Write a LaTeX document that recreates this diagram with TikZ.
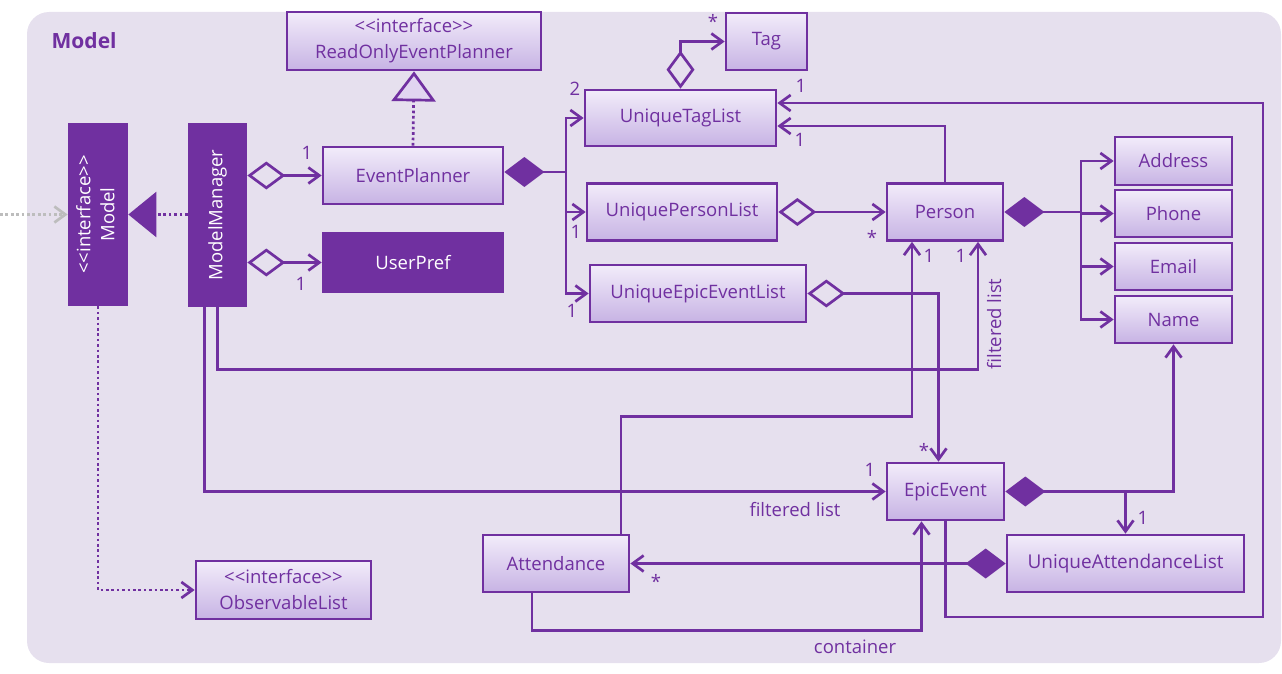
\documentclass[tikz,border=0pt]{standalone}
\usepackage{fontspec}
\setmainfont{Open Sans}
\usetikzlibrary{arrows.meta}

\definecolor{umlpurple}{HTML}{7030A0}
\definecolor{pkgbg}{HTML}{E6E0EE}
\definecolor{boxtop}{HTML}{F2ECFA}
\definecolor{boxbot}{HTML}{C7B3E4}
\definecolor{extgray}{HTML}{BDBDBD}

\begin{document}
\begin{tikzpicture}[x=1pt, y=-1pt, line width=2.7pt,
    >={Straight Barb[length=11pt, width=16pt]},
    every node/.style={font=\fontsize{18.5}{22}\selectfont, text=umlpurple},
    cls/.style={draw=umlpurple, top color=boxtop, bottom color=boxbot, inner sep=0pt, align=center},
    dark/.style={draw=umlpurple, fill=umlpurple, text=white, inner sep=0pt},
    link/.style={draw=umlpurple, ->},
    agg/.style={link, {Diamond[open, length=38pt, width=28pt]}->},
    compo/.style={link, {Diamond[length=40pt, width=30pt]}->},
    comporoot/.style={draw=umlpurple, {Diamond[length=40pt, width=30pt]}-},
    dep/.style={link, dash pattern=on 2.7pt off 2.7pt},
    mult/.style={inner sep=1pt}]
  \useasboundingbox (0,0) rectangle (1282,674);
  % package frame
  \fill[pkgbg, rounded corners=22pt] (27,12) rectangle (1281,663);
  \node[anchor=west, font=\fontsize{21}{25}\selectfont\bfseries] (pkg) at (47,41) {Model};

  % classes
  \node[dark, minimum width=58pt, minimum height=181pt] (model) at (98,214.5)
    {\rotatebox{90}{\begin{tabular}{@{}c@{}}<{}<interface>{}>\\[2pt]Model\end{tabular}}};
  \node[dark, minimum width=57pt, minimum height=182pt] (mm) at (217.5,215)
    {\rotatebox{90}{ModelManager}};
  \node[cls, minimum width=254pt, minimum height=58pt] (roep) at (414,41)
    {<{}<interface>{}>\\[4pt]ReadOnlyEventPlanner};
  \node[cls, minimum width=180pt, minimum height=57pt] (ep) at (413,175.5) {EventPlanner};
  \node[dark, minimum width=180pt, minimum height=59pt] (up) at (413,262.5) {UserPref};
  \node[cls, minimum width=191pt, minimum height=56pt] (utl) at (680.5,118) {UniqueTagList};
  \node[cls, minimum width=81pt, minimum height=57pt] (tag) at (766.5,41.5) {Tag};
  \node[cls, minimum width=190pt, minimum height=57pt] (upl) at (682,212) {UniquePersonList};
  \node[cls, minimum width=216pt, minimum height=57pt] (ueel) at (698,293.5) {UniqueEpicEventList};
  \node[cls, minimum width=116pt, minimum height=57pt] (person) at (945,212) {Person};
  \node[cls, minimum width=117pt, minimum height=48pt] (addr) at (1173.5,161) {Address};
  \node[cls, minimum width=117pt, minimum height=47pt] (phone) at (1173.5,213.5) {Phone};
  \node[cls, minimum width=117pt, minimum height=47pt] (email) at (1173.5,266.5) {Email};
  \node[cls, minimum width=117pt, minimum height=47pt] (name) at (1173.5,319.5) {Name};
  \node[cls, minimum width=117pt, minimum height=57pt] (ee) at (945.5,491.5) {EpicEvent};
  \node[cls, minimum width=237pt, minimum height=57pt] (ual) at (1125.5,563.5)
    {\resizebox{196pt}{!}{UniqueAttendanceList}};
  \node[cls, minimum width=146pt, minimum height=57pt] (att) at (556,563.5) {Attendance};
  \node[cls, minimum width=175pt, minimum height=58pt] (obs) at (283.5,590)
    {<{}<interface>{}>\\[4pt]ObservableList};

  % realizations
  \coordinate (ext) at (0,214.5);
  \draw[dep, draw=extgray] (ext) -- (model.west);
  \draw[dep, -{Triangle[length=28pt, width=45pt, fill=umlpurple]}] (mm.west |- model.east) -- (model.east);
  \draw[dep, -{Triangle[length=30pt, width=44pt, fill=boxtop!60!boxbot]}] (ep.north) -- (roep.south);
  \draw[dep] (model.south) |- (obs.west);

  % ModelManager
  \draw[agg] (mm.east |- ep.west) -- (ep.west);
  \draw[agg] (mm.east |- up.west) -- (up.west);
  \draw[link] (mm.south) -- ++(0,62) -| ([xshift=33pt]person.south);
  \draw[link] ([xshift=-13pt]mm.south) |- (ee.west);

  % EventPlanner parts
  \coordinate (epbus) at (566,172);
  \draw[comporoot] (ep.east |- epbus) -- (epbus);
  \draw[link] (epbus) |- (utl.west);
  \draw[link] (epbus) |- (upl.west);
  \draw[link] (epbus) |- (ueel.west);

  % lists
  \draw[agg] (utl.north) |- (tag.west);
  \draw[agg] (upl.east) -- (person.west);
  \draw[agg] (ueel.east) -| ([xshift=-7pt]ee.north);

  % Person
  \coordinate (pbus) at (1081,212);
  \draw[comporoot] (person.east) -- (pbus);
  \draw[link] (pbus) |- (addr.west);
  \draw[link] (pbus) |- (phone.west);
  \draw[link] (pbus) |- (email.west);
  \draw[link] (pbus) |- (name.west);
  \draw[link] (person.north) |- ([yshift=-8pt]utl.east);

  % EpicEvent
  \coordinate (eeloop) at (1263,617);
  \draw[link] (ee.south) |- (eeloop) |- ([yshift=15pt]utl.east);
  \draw[compo] (ee.east) -| (name.south);
  \draw[link] (ual.north |- ee.east) -- (ual.north);
  \draw[compo] (ual.west) -- (att.east);

  % Attendance
  \draw[link] ([xshift=65pt]att.north) -- ++(0,-117) -| ([xshift=-33pt]person.south);
  \draw[link] ([xshift=-24pt]att.south) -- ++(0,37) -| ([xshift=-24pt]ee.south);

  % multiplicities and roles
  \node[mult] (m1) at (307,153) {1};
  \node[mult] (m2) at (301,284) {1};
  \node[mult] (m3) at (575,89) {2};
  \node[mult] (m4) at (576,232) {1};
  \node[mult] (m5) at (572,311) {1};
  \node[mult] (m6) at (713,21) {*};
  \node[mult] (m7) at (801,86) {1};
  \node[mult] (m8) at (800,140) {1};
  \node[mult] (m9) at (872,237) {*};
  \node[mult] (m10) at (929,256) {1};
  \node[mult] (m11) at (961,256) {1};
  \node[mult, rotate=90] (r1) at (994,324) {filtered list};
  \node[mult] (m12) at (924,450) {*};
  \node[mult] (m13) at (870,470) {1};
  \node[mult] (r2) at (795,510) {filtered list};
  \node[mult] (m14) at (1143,518) {1};
  \node[mult] (m15) at (656,581) {*};
  \node[mult] (r3) at (855,647) {container};
\end{tikzpicture}
\end{document}
